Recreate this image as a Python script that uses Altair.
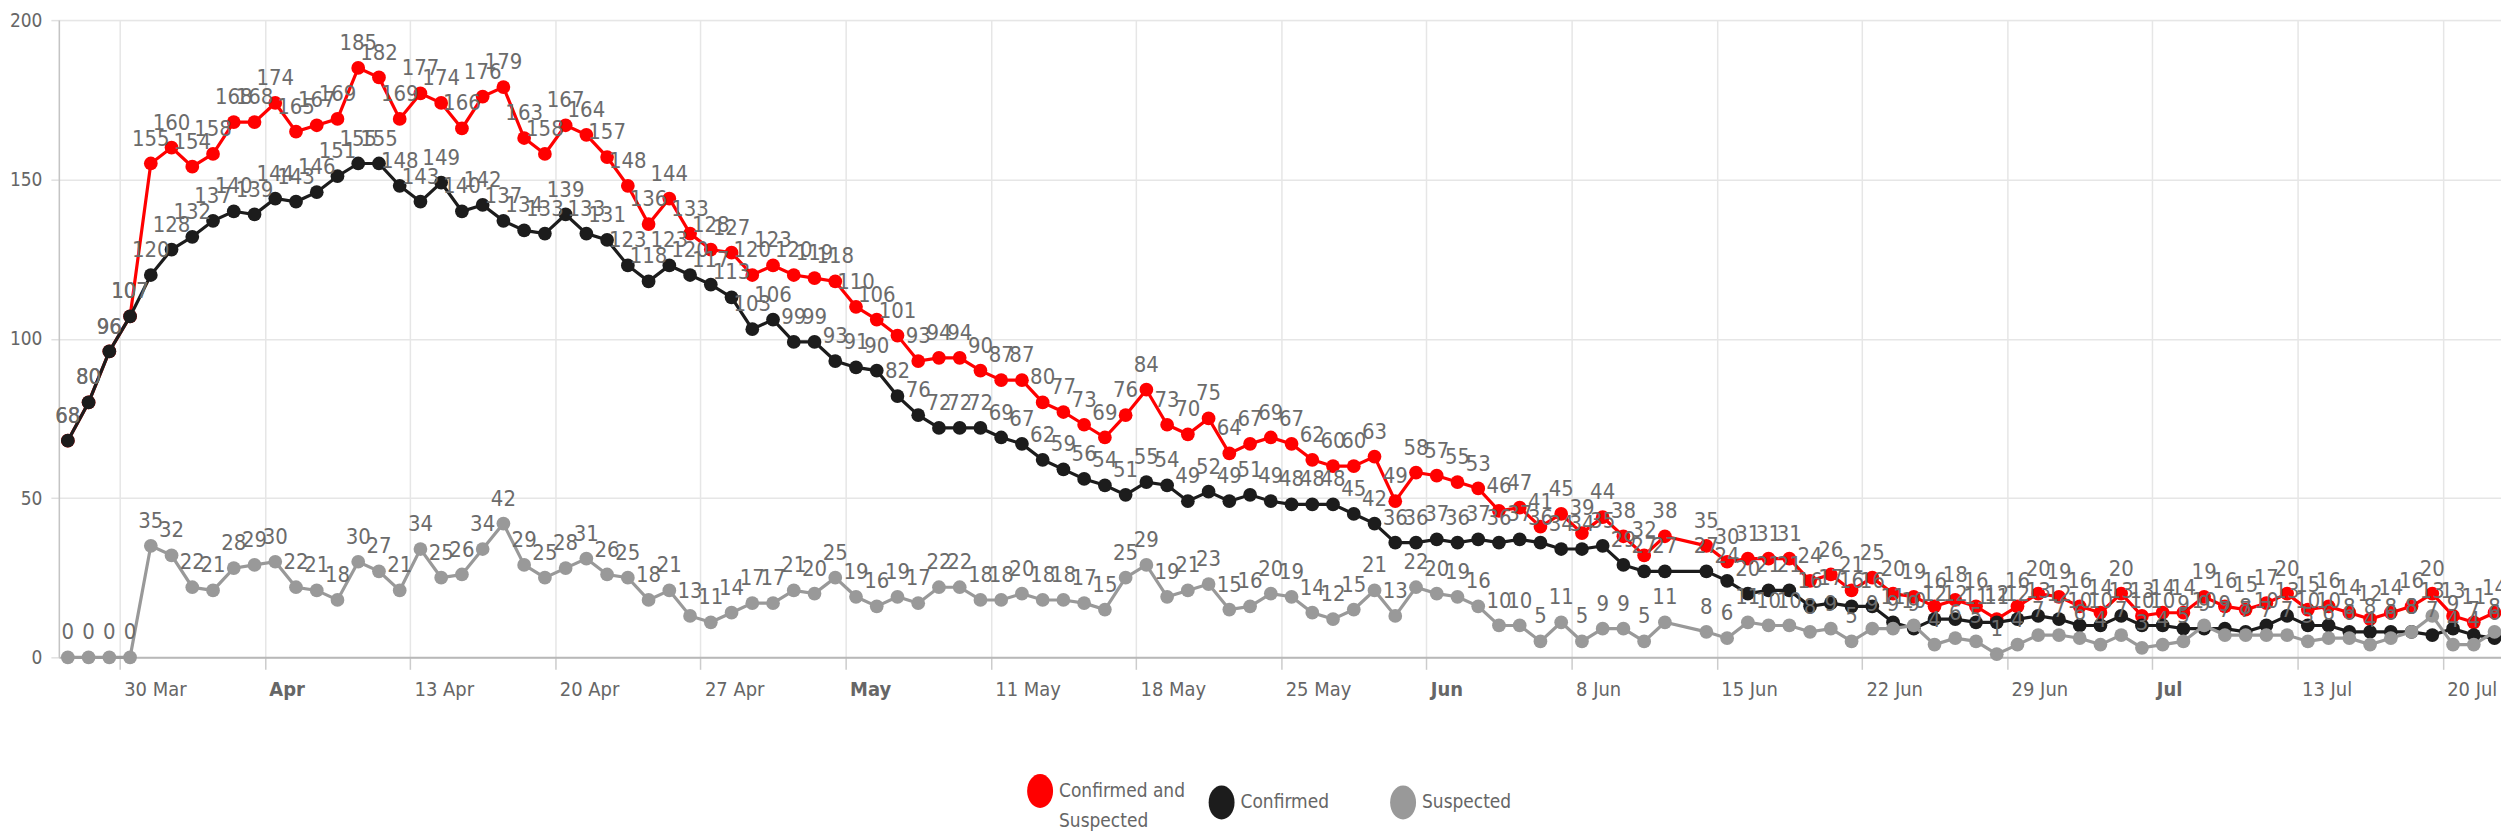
import altair as alt
import pandas as pd

FONT = "DejaVu Sans Condensed, Liberation Sans Narrow, sans-serif"

series_names = ["Confirmed and Suspected", "Confirmed", "Suspected"]
series_colors = ["#ff0000", "#1c1c1c", "#999999"]

start_date = "2020-03-27 12:00"   # one value per day; None = no report (13 Jun)

total = [68, 80, 96, 107,
         155, 160, 154, 158, 168, 168, 174, 165, 167, 169, 185, 182, 169,
         177, 174, 166, 176, 179, 163, 158, 167, 164, 157, 148, 136, 144, 133, 128, 127, 120, 123,
         120, 119, 118, 110, 106, 101, 93, 94, 94, 90, 87, 87, 80, 77, 73, 69, 76,
         84, 73, 70, 75, 64, 67, 69, 67, 62, 60, 60, 63,
         49, 58, 57, 55, 53, 46, 47, 41, 45, 39, 44, 38, 32, 38,
         None,
         35, 30, 31, 31, 31, 24, 26, 21, 25,
         20, 19, 16, 18, 16, 12, 16, 20, 19, 16, 14, 20, 13, 14, 14, 19, 16, 15, 17, 20, 15, 16, 14,
         12, 14, 16, 20, 13, 11, 14]

confirmed = [68, 80, 96, 107,
             120, 128, 132, 137, 140, 139, 144, 143, 146, 151, 155, 155, 148,
             143, 149, 140, 142, 137, 134, 133, 139, 133, 131, 123, 118, 123, 120, 117, 113, 103, 106,
             99, 99, 93, 91, 90, 82, 76, 72, 72, 72, 69, 67, 62, 59, 56, 54, 51,
             55, 54, 49, 52, 49, 51, 49, 48, 48, 48, 45, 42,
             36, 36, 37, 36, 37, 36, 37, 36, 34, 34, 35, 29, 27, 27,
             None,
             27, 24, 20, 21, 21, 16, 17, 16, 16,
             11, 9, 12, 12, 11, 11, 12, 13, 12, 10, 10, 13, 10, 10, 9, 9, 9, 8, 10, 13, 10, 10, 8,
             8, 8, 8, 7, 9, 7, 6]

suspected = [0, 0, 0, 0,
             35, 32, 22, 21, 28, 29, 30, 22, 21, 18, 30, 27, 21,
             34, 25, 26, 34, 42, 29, 25, 28, 31, 26, 25, 18, 21, 13, 11, 14, 17, 17,
             21, 20, 25, 19, 16, 19, 17, 22, 22, 18, 18, 20, 18, 18, 17, 15, 25,
             29, 19, 21, 23, 15, 16, 20, 19, 14, 12, 15, 21,
             13, 22, 20, 19, 16, 10, 10, 5, 11, 5, 9, 9, 5, 11,
             None,
             8, 6, 11, 10, 10, 8, 9, 5, 9,
             9, 10, 4, 6, 5, 1, 4, 7, 7, 6, 4, 7, 3, 4, 5, 10, 7, 7, 7, 7, 5, 6, 6,
             4, 6, 8, 13, 4, 4, 8]

tick_dates = ["2020-03-30", "2020-04-06", "2020-04-13", "2020-04-20", "2020-04-27",
              "2020-05-04", "2020-05-11", "2020-05-18", "2020-05-25", "2020-06-01",
              "2020-06-08", "2020-06-15", "2020-06-22", "2020-06-29", "2020-07-06",
              "2020-07-13", "2020-07-20"]
x_domain = ["2020-03-27 01:36", "2020-07-22 19:30"]
y_ticks = [0, 50, 100, 150, 200]


def ms(s):
    return int(pd.Timestamp(s, tz="UTC").value // 1_000_000)


dates = pd.date_range(start_date, periods=len(total), freq="D", tz="UTC")
rows = []
for name, vals in zip(series_names, [total, confirmed, suspected]):
    for d, v in zip(dates, vals):
        if v is not None:
            rows.append({"date": int(d.value // 1_000_000), "value": v, "series": name})
df = pd.DataFrame(rows)

x_enc = alt.X(
    "date:T",
    scale=alt.Scale(type="utc", domain=[ms(s) for s in x_domain], nice=False),
    axis=alt.Axis(
        values=[ms(s) for s in tick_dates],
        labelExpr="utcdate(datum.value) <= 7 ? utcFormat(datum.value, '%b') : utcFormat(datum.value, '%-d %b')",
        labelFontWeight={"condition": {"test": "utcdate(datum.value) <= 7", "value": "bold"}, "value": "normal"},
        labelAlign="left", labelBaseline="top", labelOffset=4, labelPadding=10,
        labelFont=FONT, labelFontSize=20, labelColor="#666666",
        labelOverlap=False, labelFlush=False,
        tickSize=12, tickColor="#cccccc", tickWidth=1.5,
        domainColor="#b8b8b8", domainWidth=2,
        grid=True, gridColor="#e6e6e6", gridWidth=1.5,
        title=None,
    ),
)
y_enc = alt.Y(
    "value:Q",
    scale=alt.Scale(domain=[0, 200], nice=False, zero=True),
    axis=alt.Axis(
        values=y_ticks, title=None,
        labelFont=FONT, labelFontSize=19, labelColor="#666666", labelPadding=9,
        tickSize=8, tickColor="#e0e0e0", tickWidth=1.5,
        domain=True, domainColor="#c4c4c4", domainWidth=1.5,
        grid=True, gridColor="#e6e6e6", gridWidth=1.5,
    ),
)

ellipse = "M-0.765,0A0.765,1,0,1,1,0.765,0A0.765,1,0,1,1,-0.765,0Z"
color_scale = alt.Scale(domain=series_names, range=series_colors)
legend = alt.Legend(
    title=None, orient="none", legendX=967, legendY=756,
    direction="horizontal", columns=3, gridAlign="all", columnPadding=19,
    symbolType=ellipse, symbolSize=1156, symbolStrokeWidth=0, symbolOpacity=1,
    labelFont=FONT, labelFontSize=19, labelColor="#666666", labelOffset=2,
    labelBaseline="middle", labelLimit=400,
    labelExpr="datum.label == 'Confirmed and Suspected' ? ['Confirmed and', 'Suspected'] : datum.label",
    padding=0,
)

base = alt.Chart(df).encode(x=x_enc, y=y_enc)

layers = []
for name, col in zip(series_names, series_colors):
    sub = base.transform_filter(alt.datum.series == name)
    layers.append(sub.mark_line(color=col, strokeWidth=3.2))
    layers.append(sub.mark_circle(size=190, opacity=1).encode(
        color=alt.Color("series:N", scale=color_scale, legend=legend)))

labels = base.mark_text(
    dy=-18, baseline="alphabetic", align="center",
    font=FONT, fontSize=22, color="#6b6b6b",
).encode(text="value:Q")
layers.append(labels)

chart = alt.layer(*layers).properties(
    width=2449, height=639,
    padding={"left": 51, "top": 11, "right": 0, "bottom": 173},
    autosize=alt.AutoSizeParams(type="none"),
).configure_view(strokeWidth=0).configure(
    background="white",
    style={"guide-label": {"lineHeight": 30}},
)

chart.save("out.html", embed_options={"renderer": "svg", "actions": False})
